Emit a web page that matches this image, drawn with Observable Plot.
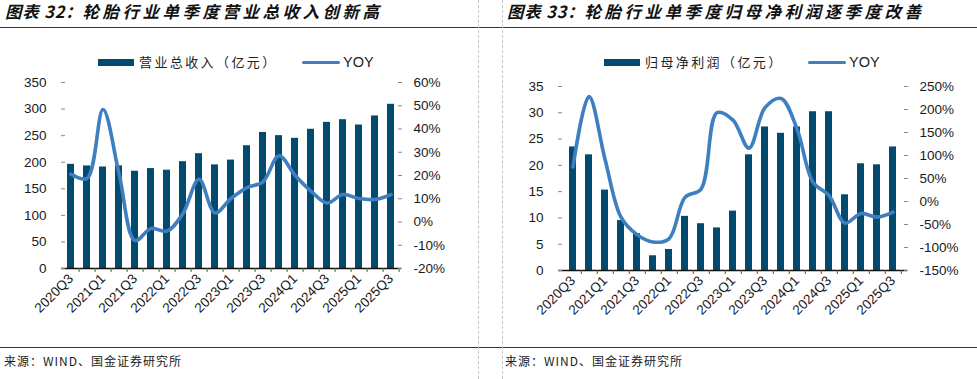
<!DOCTYPE html>
<html><head><meta charset="utf-8">
<script src="https://cdn.jsdelivr.net/npm/d3@7"></script>
<script src="https://cdn.jsdelivr.net/npm/@observablehq/plot@0.6"></script>
<style>
body{margin:0;background:#fff;width:977px;height:379px;position:relative;overflow:hidden;font-family:"Liberation Sans",Arial,sans-serif;}
.abs{position:absolute}
.title{font-family:"Noto Sans CJK SC";font-weight:bold;font-style:italic;font-size:16.5px;letter-spacing:3.5px;color:#111;white-space:nowrap;top:0px;line-height:22px}
.title .pre{letter-spacing:0.8px}
.rule{left:0;width:977px;height:1.5px;background:#1f3b58}
.vdash{top:0;height:379px;border-left:1px dashed #c4c4c4}
.src{font-family:"Noto Sans CJK SC";font-size:12px;letter-spacing:1px;color:#222;top:352px;line-height:18px;white-space:nowrap}
.leg{font-family:"Noto Sans CJK SC";font-size:13px;letter-spacing:2.4px;color:#222;top:53px;line-height:18px;white-space:nowrap}
.sw{height:7px;width:36px;background:#024a6e;top:59px}
.ln{height:3.5px;width:38px;background:#3e7fc1;top:60.5px;border-radius:2px}
.yoy{font-family:"Liberation Sans",Arial,sans-serif;font-size:14.5px;color:#222;top:52px;line-height:20px}
</style></head><body>
<div class="abs title" style="left:5px"><span class="pre">图表 32：</span>轮胎行业单季度营业总收入创新高</div>
<div class="abs title" style="left:507px"><span class="pre">图表 33：</span>轮胎行业单季度归母净利润逐季度改善</div>
<div class="abs rule" style="top:26.5px"></div>
<div class="abs rule" style="top:346.5px"></div>
<div class="abs vdash" style="left:478px"></div>
<div class="abs vdash" style="left:502px"></div>

<div class="abs sw" style="left:98px"></div>
<div class="abs leg" style="left:139px">营业总收入（亿元）</div>
<div class="abs ln" style="left:302px"></div>
<div class="abs yoy" style="left:343px">YOY</div>

<div class="abs sw" style="left:604px"></div>
<div class="abs leg" style="left:645px">归母净利润（亿元）</div>
<div class="abs ln" style="left:808px"></div>
<div class="abs yoy" style="left:849px">YOY</div>

<div class="abs src" style="left:4px">来源：WIND、国金证券研究所</div>
<div class="abs src" style="left:505px">来源：WIND、国金证券研究所</div>

<div id="p1" class="abs" style="left:0px;top:70px"></div>
<div id="p2" class="abs" style="left:490px;top:70px"></div>

<script>
const quarters = ["2020Q3","2020Q4","2021Q1","2021Q2","2021Q3","2021Q4","2022Q1","2022Q2","2022Q3","2022Q4",
  "2023Q1","2023Q2","2023Q3","2023Q4","2024Q1","2024Q2","2024Q3","2024Q4","2025Q1","2025Q2","2025Q3"];
const revenue = [196,193,191,193,183,188,185,201,216,195,204,231,256,250,245,262,275,280,270,287,309];
const revenueYoY = [20.6,18.7,48.4,20.9,-8.0,-2.8,-3.9,3.7,18.4,3.9,10.1,14.8,17.3,28.5,20.1,13.3,8.2,11.8,10.1,9.7,11.8];
const profit = [23.5,22.0,15.3,9.5,7.0,2.8,4.0,10.3,8.9,8.1,11.3,22.0,27.3,26.1,27.3,30.2,30.2,14.4,20.3,20.1,23.5];
const profitYoY = [75,228,92,-34,-72,-88,-81,9,27,193,177,116,204,224,158,42,13,-47,-26,-34,-23];
const leftTicks1 = [0,50,100,150,200,250,300,350];
const rightTicks1 = [-20,-10,0,10,20,30,40,50,60];
const leftTicks2 = [0,5,10,15,20,25,30,35];
const rightTicks2 = [-150,-100,-50,0,50,100,150,200,250];
const labelQuarters = quarters.filter((d,i)=>i%2===0);

function panel({vals, yoy, lTicks, rTicks, width, height, mL, mR, mT, mB}) {
  const yMax = lTicks[lTicks.length-1];
  const pMin = rTicks[0], pMax = rTicks[rTicks.length-1];
  const toY = p => (p - pMin) / (pMax - pMin) * yMax;
  const fromY = y => Math.round(y / yMax * (pMax - pMin) + pMin);
  const data = quarters.map((q,i)=>({q, v: vals[i], p: yoy[i]}));
  const step = (width - mL - mR) / quarters.length;
  return Plot.plot({
    width, height, marginLeft: mL, marginRight: mR, marginTop: mT, marginBottom: mB,
    style: {fontFamily: "Liberation Sans, Arial, sans-serif", fontSize: "13.5px", color: "#1a1a1a", background: "transparent"},
    x: {type: "band", domain: quarters, paddingInner: 0.54, paddingOuter: 0.27, label: null},
    y: {domain: [0, yMax], label: null},
    marks: [
      Plot.barY(data, {x: "q", y: "v", fill: "#024a6e"}),
      Plot.line(data, {x: "q", y: d => toY(d.p), stroke: "#3e7fc1", strokeWidth: 3.6, curve: "catmull-rom"}),
      Plot.ruleY([0], {stroke: "#111", strokeWidth: 1.3}),
      Plot.axisX({tickSize: 4, dx: step/2, tickFormat: () => "", stroke: "#555", label: null}),
      Plot.axisX({ticks: labelQuarters, tickSize: 0, tickPadding: 8, tickRotate: -45, label: null, fontSize: 13.5}),
      Plot.axisY({anchor: "left", ticks: lTicks, tickSize: 0, tickPadding: 15, label: null, line: true, stroke: "#888"}),
      Plot.axisY({anchor: "left", ticks: lTicks, tickSize: -4, tickFormat: () => "", label: null, stroke: "#888"}),
      Plot.axisY({anchor: "right", ticks: rTicks.map(toY), tickSize: 0, tickPadding: 12, tickFormat: v => fromY(v) + "%", label: null, line: true, stroke: "#111"}),
      Plot.axisY({anchor: "right", ticks: rTicks.map(toY), tickSize: -4, tickFormat: () => "", label: null, stroke: "#888"})
    ]
  });
}

document.getElementById("p1").append(panel({vals: revenue, yoy: revenueYoY, lTicks: leftTicks1, rTicks: rightTicks1,
  width: 480, height: 253, mL: 61, mR: 79, mT: 12, mB: 55}));
document.getElementById("p2").append(panel({vals: profit, yoy: profitYoY, lTicks: leftTicks2, rTicks: rightTicks2,
  width: 487, height: 255, mL: 68, mR: 70, mT: 16, mB: 55}));
</script>
</body></html>
